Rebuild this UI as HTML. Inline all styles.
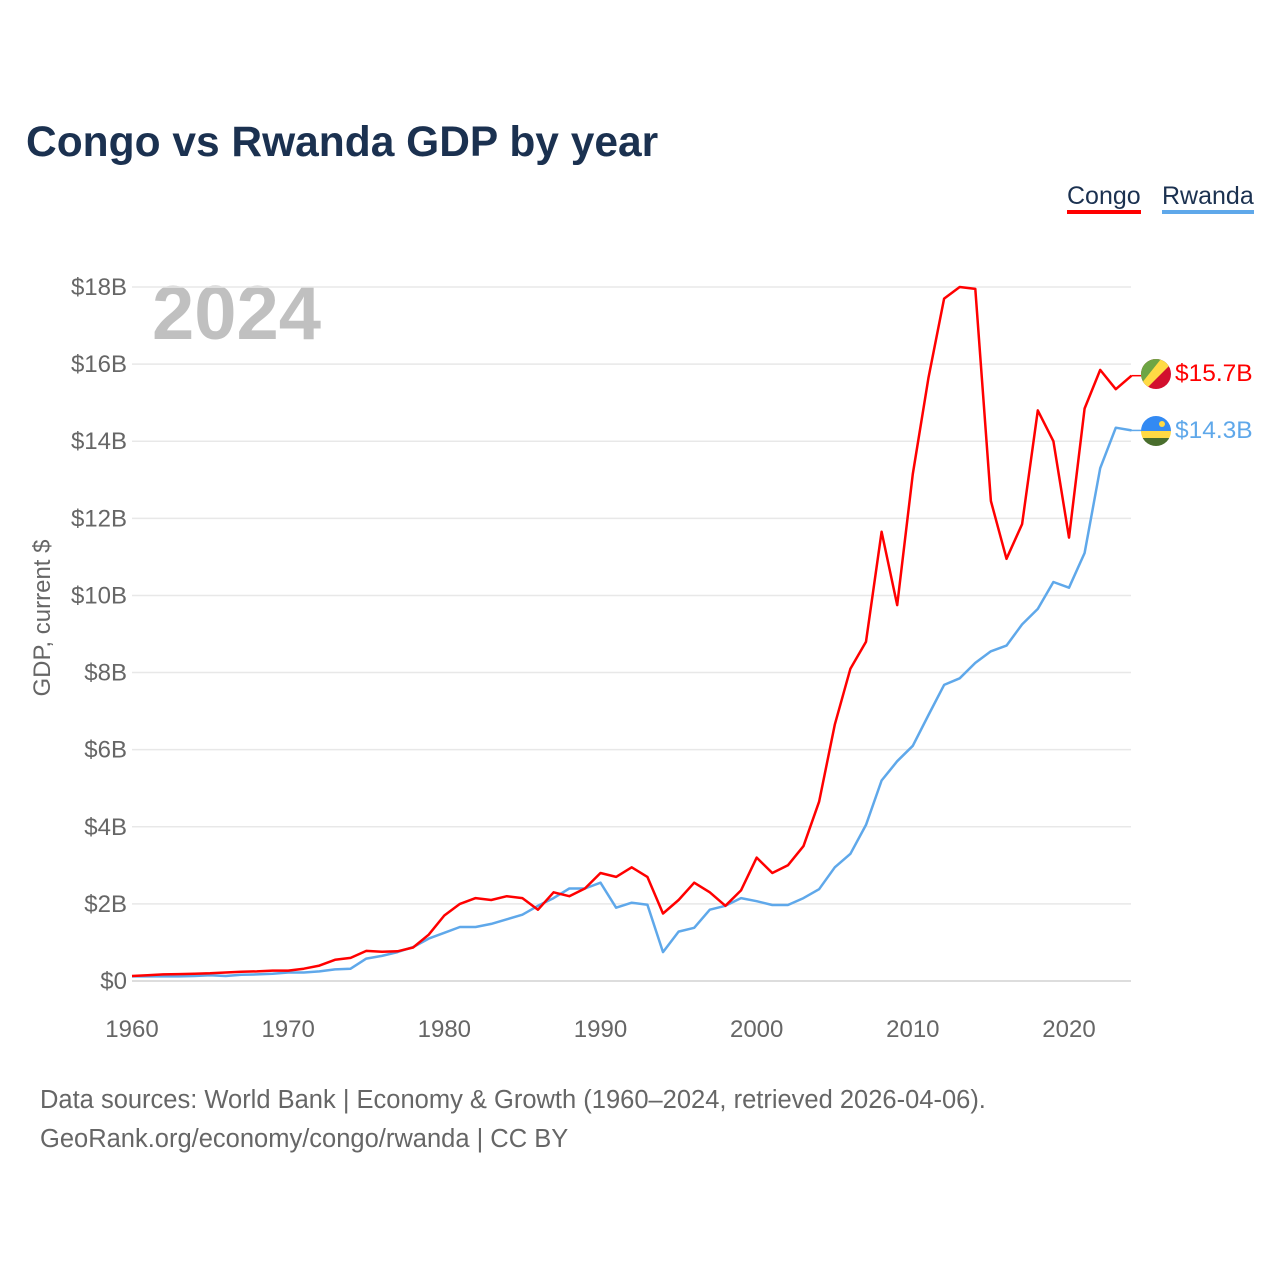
<!DOCTYPE html>
<html><head><meta charset="utf-8"><style>
body{margin:0;background:#fff;}
svg text{font-family:"Liberation Sans",sans-serif;}
</style></head><body>
<svg width="1280" height="1280" xmlns="http://www.w3.org/2000/svg">
<rect width="1280" height="1280" fill="#fff"/>
<text x="26" y="156" font-size="42.5" font-weight="bold" fill="#1b3150">Congo vs Rwanda GDP by year</text>
<g>
<text x="1067" y="204" font-size="25" fill="#1b3150">Congo</text>
<rect x="1067" y="210" width="74" height="4" fill="#ff0000"/>
<text x="1162" y="204" font-size="25" fill="#1b3150">Rwanda</text>
<rect x="1162" y="210" width="92" height="4" fill="#5fa8ea"/>
</g>
<text x="152" y="339" font-size="76" font-weight="bold" fill="#c0c0c0">2024</text>
<g id="grid"></g>
<g id="yticks"></g>
<g id="xticks"></g>
<text transform="translate(50,618) rotate(-90)" text-anchor="middle" font-size="24" fill="#666">GDP, current $</text>
<g id="lines"></g>
<g>
<clipPath id="cc"><circle cx="1156" cy="374" r="15"/></clipPath>
<g clip-path="url(#cc)"><rect x="1141" y="359" width="30" height="30" fill="#d2102e"/><polygon points="1141,359 1171,359 1141,389" fill="#6da544"/><polygon points="1161,359 1171,359 1171,364 1146,389 1141,389 1141,384" fill="#ffda44"/></g>
</g>
<g>
<clipPath id="rc"><circle cx="1156" cy="431" r="15"/></clipPath>
<g clip-path="url(#rc)"><rect x="1141" y="416" width="30" height="16" fill="#338af3"/><rect x="1141" y="431" width="30" height="7" fill="#ffda44"/><rect x="1141" y="438" width="30" height="8" fill="#496e2d"/><circle cx="1162" cy="424" r="3" fill="#ffda44"/></g>
</g>
<text x="1175" y="381" font-size="24.5" fill="#ff0000">$15.7B</text>
<text x="1175" y="438" font-size="24.5" fill="#5fa8ea">$14.3B</text>
<text x="40" y="1108" font-size="25.5" fill="#666">Data sources: World Bank | Economy &amp; Growth (1960–2024, retrieved 2026-04-06).</text>
<text x="40" y="1147" font-size="25.5" fill="#666">GeoRank.org/economy/congo/rwanda | CC BY</text>
</svg>
<script>
const years=[];for(let y=1960;y<=2024;y++)years.push(y);
const congo=[0.13,0.15,0.17,0.18,0.19,0.2,0.22,0.24,0.25,0.27,0.27,0.32,0.4,0.55,0.6,0.78,0.76,0.77,0.87,1.2,1.7,2.0,2.15,2.1,2.2,2.15,1.85,2.3,2.2,2.4,2.8,2.7,2.95,2.7,1.75,2.1,2.55,2.3,1.95,2.35,3.2,2.8,3.0,3.5,4.65,6.65,8.1,8.8,11.65,9.75,13.15,15.65,17.7,18.0,17.95,12.45,10.95,11.85,14.8,14.0,11.5,14.85,15.85,15.35,15.7];
const rwanda=[0.12,0.12,0.12,0.12,0.13,0.15,0.13,0.16,0.17,0.19,0.22,0.22,0.25,0.3,0.32,0.58,0.65,0.75,0.88,1.1,1.25,1.4,1.4,1.48,1.6,1.72,1.95,2.15,2.4,2.4,2.55,1.9,2.03,1.98,0.75,1.28,1.38,1.85,1.95,2.15,2.07,1.97,1.97,2.15,2.38,2.95,3.3,4.05,5.2,5.7,6.1,6.9,7.68,7.85,8.25,8.55,8.7,9.25,9.65,10.35,10.2,11.1,13.3,14.35,14.28];
const yTicks=[0,2,4,6,8,10,12,14,16,18];
const yTickLabels=["$0","$2B","$4B","$6B","$8B","$10B","$12B","$14B","$16B","$18B"];
const xTicks=[1960,1970,1980,1990,2000,2010,2020];
const NS="http://www.w3.org/2000/svg";
const xs=y=>132+(y-1960)*(1069-132)/60;
const ys=v=>981-v*(981-287)/18;
function mk(t,a,p){const e=document.createElementNS(NS,t);for(const k in a)e.setAttribute(k,a[k]);p.appendChild(e);return e;}
const grid=document.getElementById('grid'),yt=document.getElementById('yticks'),xt=document.getElementById('xticks'),lines=document.getElementById('lines');
yTicks.forEach((v,i)=>{
 const l=mk('line',{x1:132,x2:1131,y1:ys(v),y2:ys(v),stroke:v===0?'#ddd':'#e8e8e8','stroke-width':v===0?2:1.5},grid);
 
 
 const t=mk('text',{x:127,y:ys(v)+8,'text-anchor':'end','font-size':24,fill:'#666'},yt);
 t.textContent=yTickLabels[i];
 
 
});
xTicks.forEach(y=>{
 const t=mk('text',{x:xs(y),y:1037,'text-anchor':'middle','font-size':24,fill:'#666'},xt);
 t.textContent=y;
 
 
});
function draw(vals,color,name){
 const d=vals.map((v,i)=>(i?'L':'M')+xs(years[i]).toFixed(1)+','+ys(v).toFixed(1)).join(' ');
 const p=mk('path',{d:d,fill:'none',stroke:color,'stroke-width':2.5,'stroke-linejoin':'round'},lines);
 
 
 const last=vals[vals.length-1];
 mk('line',{x1:xs(2024),x2:1141,y1:ys(last),y2:ys(last),stroke:color,'stroke-width':1.5},lines);
}
draw(rwanda,'#5fa8ea','rwanda-line');
draw(congo,'#ff0000','congo-line');
</script>
</body></html>
